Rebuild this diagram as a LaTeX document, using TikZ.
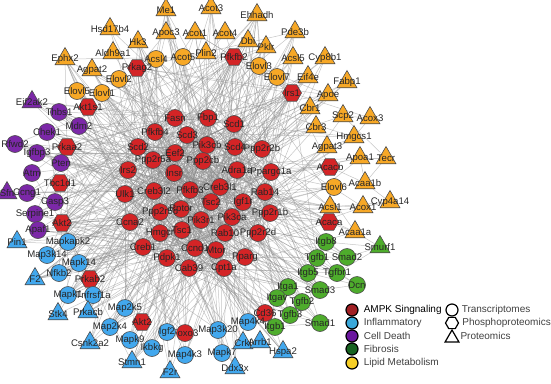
\documentclass[tikz,border=0pt]{standalone}
\usepackage{fontspec}
\setmainfont{Liberation Sans}
\usepackage{xcolor}
\usepackage{tikz}
\usetikzlibrary{shapes.geometric, positioning, backgrounds}

\definecolor{ampkred}{RGB}{212,36,38}
\definecolor{inflblue}{RGB}{66,168,238}
\definecolor{deathpurple}{RGB}{124,40,168}
\definecolor{fibgreen}{RGB}{78,172,44}
\definecolor{lipidorange}{RGB}{247,168,38}
\definecolor{legampk}{RGB}{160,32,36}
\definecolor{leginfl}{RGB}{58,168,218}
\definecolor{legdeath}{RGB}{106,22,158}
\definecolor{legfib}{RGB}{22,98,32}
\definecolor{leglipid}{RGB}{246,206,38}

\tikzstyle{trans} = [circle, draw=black!70, line width=0.6pt, minimum size=17pt, inner sep=0pt]
\tikzstyle{phos} = [regular polygon, regular polygon sides=6, draw=black!70, line width=0.6pt, minimum size=19pt, inner sep=0pt]
\tikzstyle{prot} = [regular polygon, regular polygon sides=3, draw=black!70, line width=0.6pt, minimum size=23pt, inner sep=0pt]
\tikzstyle{ampk} = [fill=ampkred]
\tikzstyle{infl} = [fill=inflblue]
\tikzstyle{death} = [fill=deathpurple]
\tikzstyle{fib} = [fill=fibgreen]
\tikzstyle{lipid} = [fill=lipidorange]
\tikzstyle{edge} = [draw=black!45, line width=0.5pt, opacity=0.5]
\tikzstyle{legdot} = [circle, draw=black, line width=1.2pt, minimum size=12pt, inner sep=0pt]
\tikzstyle{legtext} = [font=\fontsize{10}{10}\selectfont, text=black!75, inner sep=0pt]

% one gene = one node, the name is also the label
\newcommand{\gn}[3]{\node[#1,label={center:#2}] (#2) at (#3) {};}

\begin{document}
\begin{tikzpicture}[x=1pt,y=-1pt,
  every label/.style={font=\fontsize{9.6}{10}\selectfont, inner sep=0pt, text=black!85}]
\useasboundingbox (0,0) rectangle (551,383);

% Lipid metabolism
\gn{prot,lipid}{Me1}{166,10}
\gn{prot,lipid}{Acot3}{211,8}
\gn{prot,lipid}{Hsd17b4}{110,29}
\gn{prot,lipid}{Ehhadh}{257,15}
\gn{prot,lipid}{Apoc3}{166,33}
\gn{prot,lipid}{Acot1}{195,33}
\gn{prot,lipid}{Acot4}{225,33}
\gn{prot,lipid}{Pde3b}{295,32}
\gn{prot,lipid}{Hk3}{138,42}
\gn{prot,lipid}{Dbi}{248,41}
\gn{prot,lipid}{Pklr}{266,47}
\gn{prot,lipid}{Aldh9a1}{113,53}
\gn{prot,lipid}{Plin2}{206,53}
\gn{prot,lipid}{Acsl5}{293,58}
\gn{prot,lipid}{Cyp8b1}{325,58}
\gn{prot,lipid}{Ephx2}{65,59}
\gn{prot,lipid}{Agpat2}{92,70}
\gn{prot,lipid}{Eif4e}{308,77}
\gn{prot,lipid}{Fabp1}{347,82}
\gn{prot,lipid}{Apoe}{328,95}
\gn{prot,lipid}{Cbr1}{310,108}
\gn{prot,lipid}{Scp2}{343,116}
\gn{prot,lipid}{Acox3}{370,118}
\gn{prot,lipid}{Cbr3}{316,127}
\gn{prot,lipid}{Hmgcs1}{354,137}
\gn{prot,lipid}{Agpat3}{327,147}
\gn{prot,lipid}{Apoa1}{360,158}
\gn{prot,lipid}{Tecr}{386,158}
\gn{prot,lipid}{Acaa1b}{365,183}
\gn{prot,lipid}{Cyp4a14}{390,202}
\gn{prot,lipid}{Acsl1}{330,207}
\gn{prot,lipid}{Acox1}{363,207}
\gn{prot,lipid}{Acaa1a}{355,232}
\gn{trans,lipid}{Acsl4}{156,59}
\gn{trans,lipid}{Acot5}{183,57}
\gn{trans,lipid}{Elovl2}{119,79}
\gn{trans,lipid}{Elovl5}{77,91}
\gn{trans,lipid}{Elovl1}{102,93}
\gn{trans,lipid}{Elovl3}{259,66}
\gn{trans,lipid}{Elovl7}{277,77}
\gn{trans,lipid}{Elovl6}{334,187}

% AMPK signaling
\gn{phos,ampk}{Prkag2}{137,68}
\gn{phos,ampk}{Pfkfb2}{234,57}
\gn{phos,ampk}{Akt1s1}{88,107}
\gn{phos,ampk}{Irs1}{292,93}
\gn{phos,ampk}{Prkaa2}{67,147}
\gn{phos,ampk}{Tbc1d1}{60,183}
\gn{phos,ampk}{Akt2}{62,223}
\gn{phos,ampk}{Prkab2}{90,279}
\node[phos,ampk,label={center:Akt2}] (Akt2b) at (142,322) {};
\gn{phos,ampk}{Acacb}{330,167}
\gn{phos,ampk}{Acaca}{329,222}
\gn{trans,ampk}{Fasn}{175,118}
\gn{trans,ampk}{Fbp1}{208,118}
\gn{trans,ampk}{Scd1}{234,124}
\gn{trans,ampk}{Pfkfb4}{155,132}
\gn{trans,ampk}{Scd3}{187,135}
\gn{trans,ampk}{Pik3cb}{207,145}
\gn{trans,ampk}{Scd4}{235,147}
\gn{trans,ampk}{Ppp2r2b}{262,149}
\gn{trans,ampk}{Scd2}{138,147}
\gn{trans,ampk}{Eef2}{175,153}
\gn{trans,ampk}{Ppp2r5a}{153,160}
\gn{trans,ampk}{Ppp2cb}{203,161}
\gn{trans,ampk}{Adra1a}{237,170}
\gn{trans,ampk}{Ppargc1a}{271,172}
\gn{trans,ampk}{Irs2}{128,170}
\gn{trans,ampk}{Insr}{174,173}
\gn{trans,ampk}{Ulk1}{125,194}
\gn{trans,ampk}{Creb3l2}{154,191}
\gn{trans,ampk}{Pfkfb3}{190,190}
\gn{trans,ampk}{Creb3l1}{220,187}
\gn{trans,ampk}{Rab14}{265,192}
\gn{trans,ampk}{Tsc2}{211,202}
\gn{trans,ampk}{Igf1r}{243,202}
\gn{trans,ampk}{Rptor}{181,209}
\gn{trans,ampk}{Pik3r1}{201,220}
\gn{trans,ampk}{Pik3ca}{232,217}
\gn{trans,ampk}{Ppp2r1b}{270,213}
\gn{trans,ampk}{Ppp2r5c}{160,212}
\gn{trans,ampk}{Ccna2}{130,222}
\gn{trans,ampk}{Tsc1}{182,230}
\gn{trans,ampk}{Rab10}{225,233}
\gn{trans,ampk}{Ppp2r2d}{258,233}
\gn{trans,ampk}{Hmgcr}{160,233}
\gn{trans,ampk}{Creb1}{143,247}
\gn{trans,ampk}{Ccnd1}{195,248}
\gn{trans,ampk}{Mtor}{216,250}
\gn{trans,ampk}{Pparg}{245,257}
\gn{trans,ampk}{Pdpk1}{167,258}
\gn{trans,ampk}{Cab39}{189,268}
\gn{trans,ampk}{Cpt1a}{224,268}
\gn{trans,ampk}{Cd36}{265,313}
\gn{trans,ampk}{Foxo3}{185,333}

% Cell death
\gn{prot,death}{Eif2ak2}{32,102}
\gn{trans,death}{Thbs1}{59,112}
\gn{trans,death}{Mdm2}{79,126}
\gn{trans,death}{Chek1}{47,132}
\gn{trans,death}{Rfwd2}{15,144}
\gn{trans,death}{Igfbp3}{37,153}
\gn{trans,death}{Pten}{61,163}
\gn{trans,death}{Atm}{32,173}
\gn{prot,death}{Sfn}{7,193}
\gn{trans,death}{Ccng1}{27,193}
\gn{trans,death}{Casp3}{55,202}
\gn{trans,death}{Serpine1}{35,214}
\gn{trans,death}{Apaf1}{38,230}

% Inflammatory
\gn{prot,infl}{Pin1}{17,242}
\gn{trans,infl}{Mapkapk2}{68,242}
\gn{trans,infl}{Map3k14}{47,255}
\gn{trans,infl}{Mapk14}{79,263}
\gn{trans,infl}{Nfkb2}{59,273}
\gn{prot,infl}{F2}{35,279}
\gn{trans,infl}{Mapk1}{68,295}
\gn{trans,infl}{Tnfrsf1a}{93,295}
\gn{prot,infl}{Stk4}{58,314}
\gn{prot,infl}{Prkacb}{88,312}
\gn{trans,infl}{Map2k5}{125,308}
\gn{trans,infl}{Map2k4}{110,327}
\gn{prot,infl}{Csnk2a2}{90,343}
\gn{trans,infl}{Mapk9}{130,340}
\gn{trans,infl}{Igf2}{167,332}
\gn{trans,infl}{Ikbkg}{152,348}
\gn{prot,infl}{Stmn1}{132,362}
\gn{prot,infl}{F2r}{170,372}
\gn{trans,infl}{Map4k3}{185,355}
\gn{trans,infl}{Map3k20}{218,330}
\gn{trans,infl}{Map4k4}{248,322}
\gn{trans,infl}{Mapk7}{222,353}
\gn{prot,infl}{Crkl}{243,343}
\gn{prot,infl}{Arrb1}{260,342}
\gn{prot,infl}{Hspa2}{283,352}
\gn{prot,infl}{Ddx3x}{235,368}

% Fibrosis
\gn{trans,fib}{Itgb8}{326,242}
\gn{prot,fib}{Smurf1}{380,247}
\gn{trans,fib}{Smad2}{347,257}
\gn{trans,fib}{Tgfb1}{317,258}
\gn{trans,fib}{Itgb5}{308,273}
\gn{trans,fib}{Tgfbr1}{337,273}
\gn{trans,fib}{Dcn}{357,285}
\gn{trans,fib}{Itga1}{288,287}
\gn{trans,fib}{Smad3}{320,290}
\gn{trans,fib}{Itgav}{277,298}
\gn{trans,fib}{Tgfb2}{302,302}
\gn{trans,fib}{Tgfb3}{290,315}
\gn{trans,fib}{Smad1}{320,323}
\gn{trans,fib}{Itgb1}{275,327}

% Interactions: the AMPK genes are the hubs
\def\hubs{Fasn,Fbp1,Scd1,Pfkfb4,Scd3,Pik3cb,Scd4,Ppp2r2b,Scd2,Eef2,Ppp2r5a,Ppp2cb,Adra1a,Ppargc1a,Irs2,Insr,Ulk1,Creb3l2,Pfkfb3,Creb3l1,Rab14,Tsc2,Igf1r,Rptor,Pik3r1,Pik3ca,Ppp2r1b,Ppp2r5c,Ccna2,Tsc1,Rab10,Ppp2r2d,Hmgcr,Creb1,Ccnd1,Mtor,Pparg,Pdpk1,Cab39,Cpt1a,Prkag2,Pfkfb2,Irs1,Prkaa2,Akt2}
\def\allg{Me1,Acot3,Hsd17b4,Ehhadh,Apoc3,Acot1,Acot4,Pde3b,Hk3,Dbi,Pklr,Aldh9a1,Plin2,Acsl5,Cyp8b1,Ephx2,Agpat2,Eif4e,Fabp1,Apoe,Cbr1,Scp2,Cbr3,Hmgcs1,Agpat3,Apoa1,Acsl1,Acox1,Acaa1a,Acsl4,Acot5,Elovl2,Elovl5,Elovl1,Elovl3,Elovl7,Elovl6,Prkag2,Pfkfb2,Akt1s1,Irs1,Prkaa2,Tbc1d1,Akt2,Prkab2,Akt2b,Acacb,Acaca,Fasn,Fbp1,Scd1,Pfkfb4,Scd3,Pik3cb,Scd4,Ppp2r2b,Scd2,Eef2,Ppp2r5a,Ppp2cb,Adra1a,Ppargc1a,Irs2,Insr,Ulk1,Creb3l2,Pfkfb3,Creb3l1,Rab14,Tsc2,Igf1r,Rptor,Pik3r1,Pik3ca,Ppp2r1b,Ppp2r5c,Ccna2,Tsc1,Rab10,Ppp2r2d,Hmgcr,Creb1,Ccnd1,Mtor,Pparg,Pdpk1,Cab39,Cpt1a,Cd36,Foxo3,Eif2ak2,Thbs1,Mdm2,Chek1,Rfwd2,Igfbp3,Pten,Atm,Sfn,Ccng1,Casp3,Serpine1,Apaf1,Pin1,Mapkapk2,Map3k14,Mapk14,Nfkb2,F2,Mapk1,Tnfrsf1a,Stk4,Prkacb,Map2k5,Map2k4,Csnk2a2,Mapk9,Igf2,Ikbkg,Stmn1,F2r,Map4k3,Map3k20,Map4k4,Mapk7,Crkl,Arrb1,Hspa2,Ddx3x,Itgb8,Smad2,Tgfb1,Itgb5,Tgfbr1,Itga1,Smad3,Itgav,Tgfb2,Tgfb3,Smad1,Itgb1}

\begin{scope}[on background layer]
\pgfmathsetseed{2718}
\foreach \a in \hubs {
  \foreach \b in \allg {
    \pgfmathparse{rnd}
    \edef\tmpa{\a}\edef\tmpb{\b}
    \ifx\tmpa\tmpb\else
      \ifdim\pgfmathresult pt<0.13pt \draw[edge] (\a) -- (\b); \fi
    \fi
  }
}
% the few outer links
\foreach \a/\b in {Tecr/Apoa1,Tecr/Acaa1b,Tecr/Scp2,Acaa1b/Cyp4a14,Acaa1b/Apoa1,Cyp4a14/Acox1,Cyp4a14/Acsl1,Acaa1b/Acacb,Acaa1b/Elovl6,Acox3/Scp2,Acox3/Hmgcs1,Acox3/Irs1,Acaa1a/Smurf1,Smurf1/Smad2,Smurf1/Itgb8,Smurf1/Tgfbr1,Dcn/Tgfbr1,Dcn/Tgfb1,Dcn/Smad3,Dcn/Itgb5,Smad1/Tgfb3,Smad1/Itgb1,Smad1/Tgfb2,Hspa2/Itgb1,Smad2/Itgb8,Tgfb1/Itgb8}
  \draw[edge] (\a) -- (\b);
\end{scope}

% Legend: colour = pathway
\node[legdot, fill=legampk] (l1) at (352,310) {};
\node[legtext, text=black, right=5pt of l1] (t1) {AMPK Singnaling};
\node[legdot, fill=leginfl] (l2) at (352,323) {};
\node[legtext, right=5pt of l2] (t2) {Inflammatory};
\node[legdot, fill=legdeath] (l3) at (352,336) {};
\node[legtext, right=5pt of l3] (t3) {Cell Death};
\node[legdot, fill=legfib] (l4) at (352,349) {};
\node[legtext, right=5pt of l4] (t4) {Fibrosis};
\node[legdot, fill=leglipid] (l5) at (352,363) {};
\node[legtext, right=5pt of l5] (t5) {Lipid Metabolism};

% Legend: shape = data set
\node[legdot, fill=white] (s1) at (452,310) {};
\node[legtext, right=3pt of s1] (u1) {Transcriptomes};
\node[regular polygon, regular polygon sides=6, draw=black, line width=1.2pt, minimum size=13pt, inner sep=0pt] (s2) at (452,323) {};
\node[legtext, right=3pt of s2] (u2) {Phosphoproteomics};
\node[regular polygon, regular polygon sides=3, draw=black, line width=1.2pt, minimum size=16pt, inner sep=0pt] (s3) at (452,338) {};
\node[legtext, right=3pt of s3.east|-l3] (u3) {Proteomics};

\end{tikzpicture}
\end{document}
